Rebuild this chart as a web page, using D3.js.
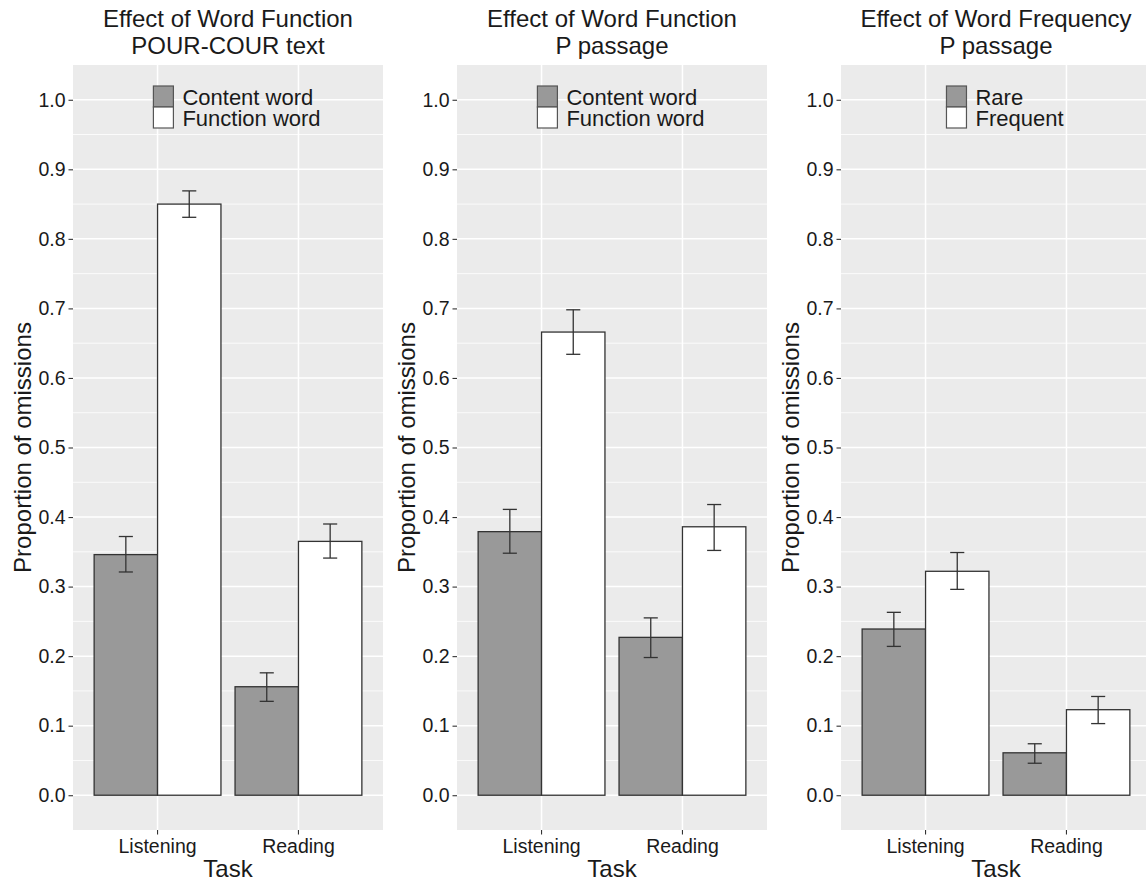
<!DOCTYPE html>
<html>
<head>
<meta charset="utf-8">
<script src="https://cdn.jsdelivr.net/npm/d3@7"></script>
<style>
  html, body { margin: 0; padding: 0; background: #ffffff; }
  svg { display: block; }
  text { font-family: "Liberation Sans", Arial, sans-serif; }
</style>
</head>
<body>
<svg id="chart" width="1146" height="883"></svg>
<script>
// ---------- data ----------
const categories = ["Listening", "Reading"];
const yTicks = [0.0, 0.1, 0.2, 0.3, 0.4, 0.5, 0.6, 0.7, 0.8, 0.9, 1.0];

const panel1Title = ["Effect of Word Function", "POUR-COUR text"];
const panel1Series = ["Content word", "Function word"];
const p1Content = [0.346, 0.156];
const p1ContentLo = [0.321, 0.135];
const p1ContentHi = [0.372, 0.176];
const p1Function = [0.850, 0.365];
const p1FunctionLo = [0.831, 0.341];
const p1FunctionHi = [0.869, 0.390];

const panel2Title = ["Effect of Word Function", "P passage"];
const panel2Series = ["Content word", "Function word"];
const p2Content = [0.379, 0.227];
const p2ContentLo = [0.348, 0.198];
const p2ContentHi = [0.411, 0.255];
const p2Function = [0.666, 0.386];
const p2FunctionLo = [0.634, 0.352];
const p2FunctionHi = [0.698, 0.418];

const panel3Title = ["Effect of Word Frequency", "P passage"];
const panel3Series = ["Rare", "Frequent"];
const p3Rare = [0.239, 0.061];
const p3RareLo = [0.214, 0.046];
const p3RareHi = [0.263, 0.074];
const p3Frequent = [0.322, 0.123];
const p3FrequentLo = [0.296, 0.103];
const p3FrequentHi = [0.349, 0.142];

const yLabel = "Proportion of omissions";
const xLabel = "Task";

// ---------- build panels ----------
function rows(seriesNames, vals) {
  const out = [];
  categories.forEach((c, i) => {
    seriesNames.forEach((s, j) => {
      out.push({ cat: c, series: s, value: vals[j][0][i], lo: vals[j][1][i], hi: vals[j][2][i] });
    });
  });
  return out;
}

const panels = [
  { title: panel1Title, series: panel1Series,
    data: rows(panel1Series, [[p1Content, p1ContentLo, p1ContentHi], [p1Function, p1FunctionLo, p1FunctionHi]]) },
  { title: panel2Title, series: panel2Series,
    data: rows(panel2Series, [[p2Content, p2ContentLo, p2ContentHi], [p2Function, p2FunctionLo, p2FunctionHi]]) },
  { title: panel3Title, series: panel3Series,
    data: rows(panel3Series, [[p3Rare, p3RareLo, p3RareHi], [p3Frequent, p3FrequentLo, p3FrequentHi]]) }
];

const svg = d3.select("#chart");
const fills = ["#999999", "#ffffff"];
const panelLefts = [73, 457, 841];
const panelW = 310;
const plotTop = 65, plotBottom = 830;
const textColor = "#1a1a1a";

const y = d3.scaleLinear().domain([-0.05, 1.05]).range([plotBottom, plotTop]);
const minorTicks = [0.05, 0.15, 0.25, 0.35, 0.45, 0.55, 0.65, 0.75, 0.85, 0.95];

panels.forEach((p, pi) => {
  const x0 = panelLefts[pi];
  const g = svg.append("g");
  const x = d3.scaleBand().domain(categories).range([x0, x0 + panelW])
    .paddingInner(0.1).paddingOuter(0.15);
  const xs = d3.scaleBand().domain(p.series).range([0, x.bandwidth()]);
  const step = x.step();
  const color = d3.scaleOrdinal().domain(p.series).range(fills);

  // background
  g.append("rect").attr("x", x0).attr("y", plotTop).attr("width", panelW).attr("height", plotBottom - plotTop)
    .attr("fill", "#EBEBEB");

  // minor gridlines
  g.selectAll(".minor").data(minorTicks).join("line")
    .attr("x1", x0).attr("x2", x0 + panelW)
    .attr("y1", d => y(d)).attr("y2", d => y(d))
    .attr("stroke", "#ffffff").attr("stroke-width", 0.8);
  // major gridlines
  g.selectAll(".major").data(yTicks).join("line")
    .attr("x1", x0).attr("x2", x0 + panelW)
    .attr("y1", d => y(d)).attr("y2", d => y(d))
    .attr("stroke", "#ffffff").attr("stroke-width", 1.5);
  g.selectAll(".vmajor").data(categories).join("line")
    .attr("x1", d => x(d) + x.bandwidth() / 2).attr("x2", d => x(d) + x.bandwidth() / 2)
    .attr("y1", plotTop).attr("y2", plotBottom)
    .attr("stroke", "#ffffff").attr("stroke-width", 1.5);

  // bars
  g.selectAll(".bar").data(p.data).join("rect")
    .attr("x", d => x(d.cat) + xs(d.series))
    .attr("width", xs.bandwidth())
    .attr("y", d => y(d.value))
    .attr("height", d => y(0) - y(d.value))
    .attr("fill", d => color(d.series))
    .attr("stroke", "#333333").attr("stroke-width", 1.3);

  // error bars
  const ew = step * 0.1;
  const eb = g.selectAll(".eb").data(p.data).join("g")
    .attr("transform", d => `translate(${x(d.cat) + xs(d.series) + xs.bandwidth() / 2},0)`);
  eb.append("line").attr("x1", 0).attr("x2", 0)
    .attr("y1", d => y(d.lo)).attr("y2", d => y(d.hi))
    .attr("stroke", "#333333").attr("stroke-width", 1.3);
  eb.append("line").attr("x1", -ew / 2).attr("x2", ew / 2)
    .attr("y1", d => y(d.lo)).attr("y2", d => y(d.lo))
    .attr("stroke", "#333333").attr("stroke-width", 1.3);
  eb.append("line").attr("x1", -ew / 2).attr("x2", ew / 2)
    .attr("y1", d => y(d.hi)).attr("y2", d => y(d.hi))
    .attr("stroke", "#333333").attr("stroke-width", 1.3);

  // y axis
  const yAxis = d3.axisLeft(y).tickValues(yTicks).tickFormat(d3.format(".1f")).tickSize(4.5).tickPadding(3);
  const ya = g.append("g").attr("transform", `translate(${x0},0)`).call(yAxis);
  ya.select(".domain").remove();
  ya.selectAll(".tick line").attr("stroke", "#333333").attr("stroke-width", 1.1);
  ya.selectAll(".tick text").attr("fill", textColor)
    .style("font-size", "19.5px").style("font-family", "'Liberation Sans', Arial, sans-serif");

  // x axis
  const xAxis = d3.axisBottom(x).tickSize(4.5).tickPadding(4);
  const xa = g.append("g").attr("transform", `translate(0,${plotBottom})`).call(xAxis);
  xa.select(".domain").remove();
  xa.selectAll(".tick line").attr("stroke", "#333333").attr("stroke-width", 1.1);
  xa.selectAll(".tick text").attr("fill", textColor).attr("dy", null).attr("y", 23)
    .style("font-size", "19.5px").style("font-family", "'Liberation Sans', Arial, sans-serif");

  // titles
  const cx = x0 + panelW / 2;
  g.append("text").attr("x", cx).attr("y", 27).attr("text-anchor", "middle")
    .attr("fill", textColor).style("font-size", "24px").text(p.title[0]);
  g.append("text").attr("x", cx).attr("y", 53.5).attr("text-anchor", "middle")
    .attr("fill", textColor).style("font-size", "24px").text(p.title[1]);

  // axis titles
  g.append("text").attr("x", cx).attr("y", 877).attr("text-anchor", "middle")
    .attr("fill", textColor).style("font-size", "24px").text(xLabel);
  g.append("text").attr("transform", `translate(${x0 - 42},${(plotTop + plotBottom) / 2}) rotate(-90)`)
    .attr("text-anchor", "middle").attr("fill", textColor).style("font-size", "24px").text(yLabel);

  // legend
  const leg = g.append("g");
  const keyW = 20, keyH = 21, gap = 9;
  const labels = leg.selectAll(".lt").data(p.series).join("text")
    .attr("fill", textColor).style("font-size", "22px").text(d => d);
  let maxW = 0;
  labels.each(function () { maxW = Math.max(maxW, this.getComputedTextLength()); });
  const legLeft = cx + 9 - (keyW + gap + maxW) / 2;
  const legTop = 86;
  leg.selectAll(".key").data(p.series).join("rect")
    .attr("x", legLeft).attr("y", (d, i) => legTop + i * keyH)
    .attr("width", keyW).attr("height", keyH)
    .attr("fill", d => color(d)).attr("stroke", "#555555").attr("stroke-width", 1.2);
  labels.attr("x", legLeft + keyW + gap).attr("y", (d, i) => legTop + i * keyH + 18.5);
});
</script>
</body>
</html>
